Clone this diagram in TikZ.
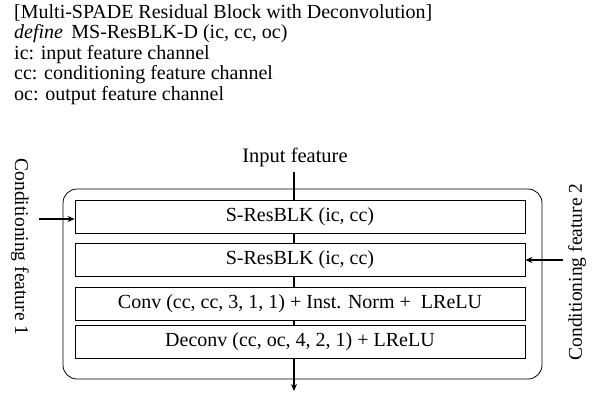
\documentclass[tikz,border=0pt]{standalone}
\usepackage{fontspec}
\setmainfont{Liberation Serif}
\usetikzlibrary{arrows.meta}
\begin{document}
\begin{tikzpicture}[x=1pt,y=-1pt,
  txt/.style={inner sep=0pt,font=\fontsize{20}{22}\selectfont},
  hdr/.style={txt,anchor=base west},
  blk/.style={txt,draw,fill=white,line width=0.8pt,minimum width=450pt,minimum height=33pt},
  arr/.style={line width=1.6pt,-{Stealth[length=7pt,width=6pt]}}]
\useasboundingbox (0,0) rectangle (595,392);
\node[hdr] (h1) at (14,18.5) {[Multi-SPADE Residual Block with Deconvolution]};
\node[hdr] (h2) at (14,38.8) {\textit{define}\, MS-ResBLK-D (ic, cc, oc)};
\node[hdr] (h3) at (14,59) {ic: input feature channel};
\node[hdr] (h4) at (14,79.5) {cc: conditioning feature channel};
\node[hdr] (h5) at (14,100) {oc: output feature channel};
\node[txt,anchor=base,font=\fontsize{20.5}{22}\selectfont] (inp) at (295,162) {Input feature};
\coordinate (top) at (294,172);
\coordinate (bot) at (294,391);
\draw[arr] (top) -- (bot);
\node[draw,line width=0.8pt,rounded corners=14pt,minimum width=479pt,minimum height=190pt,inner sep=0pt] (outer) at (302.5,284) {};
\node[blk] (b1) at (300,216.5) {S-ResBLK (ic, cc)};
\node[blk] (b2) at (300,259.5) {S-ResBLK (ic, cc)};
\node[blk] (b3) at (300,304) {Conv (cc, cc, 3, 1, 1) + Inst. Norm +\ \ LReLU};
\node[blk] (b4) at (300,342) {Deconv (cc, oc, 4, 2, 1) + LReLU};
\node[txt,rotate=-90,font=\fontsize{19.5}{22}\selectfont] (c1) at (20,247) {Conditioning feature 1};
\node[txt,rotate=90,font=\fontsize{19.5}{22}\selectfont] (c2) at (577,272) {Conditioning feature 2};
\coordinate (l1) at (39,219);
\coordinate (r2) at (563,260);
\draw[arr] (l1) -- (b1.west |- l1);
\draw[arr] (r2) -- (b2.east |- r2);
\end{tikzpicture}
\end{document}
